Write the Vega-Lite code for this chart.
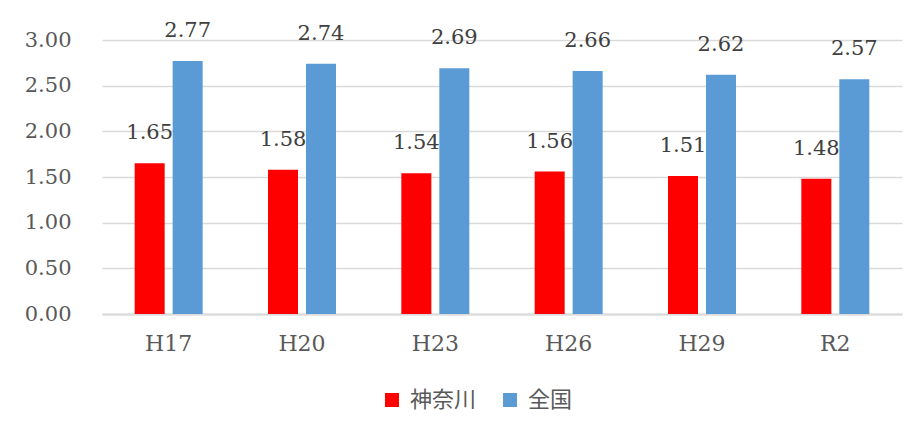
{
  "$schema": "https://vega.github.io/schema/vega-lite/v6.json",
  "autosize": {"type": "none"},
  "width": 800,
  "height": 274,
  "padding": {"left": 102, "top": 40, "right": 18, "bottom": 123},
  "background": "white",
  "data": {
    "values": [
      {"year": "H17", "series": "神奈川", "value": 1.65},
      {"year": "H17", "series": "全国", "value": 2.77},
      {"year": "H20", "series": "神奈川", "value": 1.58},
      {"year": "H20", "series": "全国", "value": 2.74},
      {"year": "H23", "series": "神奈川", "value": 1.54},
      {"year": "H23", "series": "全国", "value": 2.69},
      {"year": "H26", "series": "神奈川", "value": 1.56},
      {"year": "H26", "series": "全国", "value": 2.66},
      {"year": "H29", "series": "神奈川", "value": 1.51},
      {"year": "H29", "series": "全国", "value": 2.62},
      {"year": "R2", "series": "神奈川", "value": 1.48},
      {"year": "R2", "series": "全国", "value": 2.57}
    ]
  },
  "encoding": {
    "x": {
      "field": "year", "type": "nominal", "sort": null,
      "scale": {"paddingInner": 0.49, "paddingOuter": 0.245},
      "axis": {
        "title": null, "labelAngle": 0, "ticks": false,
        "labelFont": "DejaVu Serif", "labelFontSize": 22, "labelColor": "#595959",
        "labelPadding": 19, "domainColor": "#d9d9d9", "domainWidth": 2, "grid": false
      }
    },
    "xOffset": {
      "field": "series", "type": "nominal", "sort": ["神奈川", "全国"],
      "scale": {"paddingInner": 0.21, "paddingOuter": 0}
    },
    "y": {
      "field": "value", "type": "quantitative",
      "scale": {"domain": [0, 3], "nice": false},
      "axis": {
        "title": null, "values": [0, 0.5, 1, 1.5, 2, 2.5, 3], "format": ".2f",
        "ticks": false, "domain": false, "labelPadding": 31,
        "labelFont": "DejaVu Serif", "labelFontSize": 21, "labelColor": "#595959",
        "gridColor": "#d9d9d9", "gridWidth": 1.5
      }
    }
  },
  "layer": [
    {
      "mark": {"type": "bar"},
      "encoding": {
        "color": {
          "field": "series", "type": "nominal", "sort": ["神奈川", "全国"],
          "scale": {"domain": ["神奈川", "全国"], "range": ["#FF0000", "#5B9BD5"]},
          "legend": {
            "title": null, "orient": "none", "direction": "horizontal",
            "legendX": 279, "legendY": 349,
            "symbolType": "square", "symbolSize": 196, "symbolStrokeWidth": 0,
            "labelFont": "Noto Sans CJK JP", "labelFontSize": 22, "labelColor": "#595959",
            "labelOffset": 7, "columnPadding": 22
          }
        }
      }
    },
    {
      "mark": {"type": "text", "dy": -30, "baseline": "middle", "font": "DejaVu Serif", "fontSize": 21, "color": "#404040"},
      "encoding": {
        "text": {"field": "value", "type": "quantitative", "format": ".2f"}
      }
    }
  ],
  "config": {"view": {"stroke": null}}
}
